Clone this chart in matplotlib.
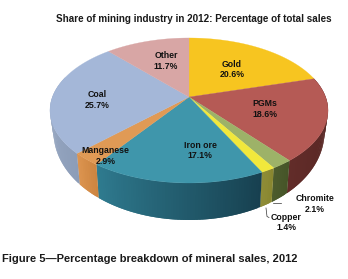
import numpy as np
import matplotlib
matplotlib.use("Agg")
import matplotlib.pyplot as plt
from matplotlib.colors import to_rgb
from matplotlib.patches import Polygon

categories = ["Gold", "PGMs", "Chromite", "Copper", "Iron ore", "Manganese", "Coal", "Other"]
values = [20.6, 18.6, 2.1, 1.4, 17.1, 2.9, 25.7, 11.7]
top_colors = ["#F7C520", "#B55A55", "#9DB268", "#F1E83C", "#3F96AB", "#E09A55", "#A4B7D8", "#D8A6A5"]
side_left = ["#F7C520", "#622C29", "#4C5C2D", "#8F8D38", "#2F7B8F", "#DD9550", "#A2B2CC", "#D8A6A5"]
side_right = ["#F7C520", "#4E2220", "#465428", "#88862F", "#17404F", "#CC8440", "#8C9DB8", "#D8A6A5"]
title = "Share of mining industry in 2012: Percentage of total sales"
caption = "Figure 5\u2014Percentage breakdown of mineral sales, 2012"

W, H = 348, 279
plt.rcParams["font.family"] = ["Liberation Sans", "DejaVu Sans"]
fig = plt.figure(figsize=(W / 100, H / 100), dpi=100, facecolor="white")
ax = fig.add_axes([0, 0, 1, 1])
ax.set_xlim(0, W)
ax.set_ylim(H, 0)
ax.axis("off")

CX, CY, BX, AY, C = 189, 97, 136.6, 70, -0.186


def top_rim(t):
    u, v = np.sin(t), -np.cos(t)
    d = 1 + C * v
    return CX + BX * u / d, CY + AY * v / d, v


def bottom_rim(t):
    x, y, v = top_rim(t)
    return CX + 0.975 * (x - CX), y + 37 - 20 * (1 - v)


fractions = np.array(values) / np.sum(values)
edges = np.concatenate([[0], np.cumsum(fractions)]) * 2 * np.pi

# sides: front half as overlapping shaded strips, so that no seams show
for i in range(len(values)):
    a0, a1 = edges[i], edges[i + 1]
    lo, hi = max(a0, np.pi / 2 - 0.3), min(a1, 3 * np.pi / 2 + 0.3)
    if hi <= lo:
        continue
    n = max(2, int((hi - lo) * 60))
    ts = np.linspace(lo, hi, n + 1)
    cl, cr = np.array(to_rgb(side_left[i])), np.array(to_rgb(side_right[i]))
    for j in range(n):
        s0, s1 = ts[j], ts[min(j + 2, n)]
        sub = np.linspace(s0, s1, 5)
        x, y, _ = top_rim(sub)
        xb, yb = bottom_rim(sub)
        pts = np.column_stack([np.r_[x, xb[::-1]], np.r_[y, yb[::-1]]])
        f = (j + 0.5) / n
        col = cr * (1 - f) + cl * f
        ax.add_patch(Polygon(pts, closed=True, fc=col, ec="none", lw=0))

# top face
for i in range(len(values)):
    ts = np.linspace(edges[i], edges[i + 1], 90)
    x, y, _ = top_rim(ts)
    pts = np.column_stack([np.r_[CX, x], np.r_[CY, y]])
    ax.add_patch(Polygon(pts, closed=True, fc=top_colors[i], ec=top_colors[i], lw=0.2))

ax.text(193.5, 18.5, title, ha="center", va="center", fontsize=7.1, fontweight="bold", color="#1a1a1a")
ax.text(2, 259.5, caption, ha="left", va="center", fontsize=8.05, fontweight="bold", color="#1a1a1a")

label_style = dict(ha="center", va="center", fontsize=6.3, fontweight="bold", color="#111111", linespacing=1.2)
layout = {
    "Gold": (232, 69.5), "PGMs": (265, 109), "Chromite": (315, 204), "Copper": (286, 222.5),
    "Iron ore": (200, 150.5), "Manganese": (105.5, 156), "Coal": (97, 100), "Other": (166, 61),
}
for name, val in zip(categories, values):
    ax.text(*layout[name], f"{name}\n{val}%", **label_style)

ax.plot([273, 281], [202.5, 202.5], color="#333333", lw=0.5)
ax.plot([266, 267, 269], [208, 216.5, 217.5], color="#333333", lw=0.5)

fig.savefig("out.png", dpi=100, facecolor="white")
